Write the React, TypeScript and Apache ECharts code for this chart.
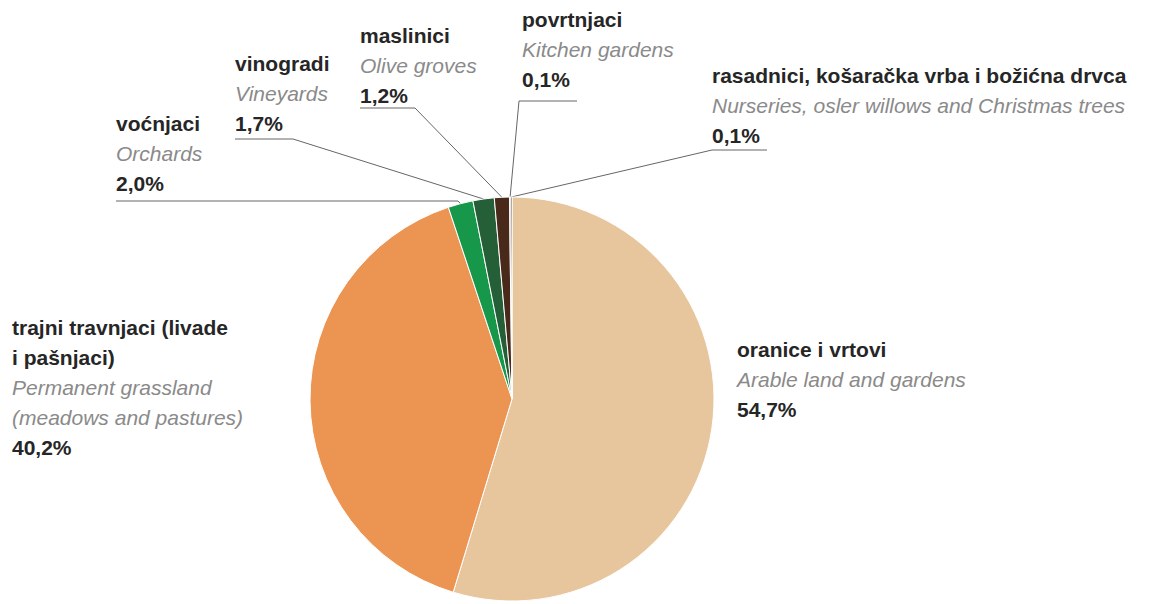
import React, { useEffect, useRef } from "react";
import * as echarts from "echarts";

const names = [
  "oranice i vrtovi",
  "trajni travnjaci (livade\ni pašnjaci)",
  "voćnjaci",
  "vinogradi",
  "maslinici",
  "povrtnjaci",
  "rasadnici, košaračka vrba i božićna drvca",
];
const englishNames = [
  "Arable land and gardens",
  "Permanent grassland\n(meadows and pastures)",
  "Orchards",
  "Vineyards",
  "Olive groves",
  "Kitchen gardens",
  "Nurseries, osler willows and Christmas trees",
];
const values = [54.7, 40.2, 2.0, 1.7, 1.2, 0.1, 0.1];

const colors = ["#e7c69e", "#ec9452", "#17974a", "#245f38", "#48291a", "#6a1e16", "#2a1810"];
// label block top-left positions
const labelPos = [
  [737, 334],
  [12, 312],
  [116, 108],
  [235, 48],
  [360, 20],
  [522, 4],
  [712, 60],
];
// leader line bend and end points (null = no leader)
const leaders: (number[][] | null)[] = [
  null,
  null,
  [[458, 201], [116, 201]],
  [[293, 139], [235, 139]],
  [[415, 108], [360, 108]],
  [[519, 101], [577, 101]],
  [[712, 150], [767, 150]],
];

const fmt = (v: number) => v.toFixed(1).replace(".", ",") + "%";

export default function App() {
  const ref = useRef<HTMLDivElement>(null);
  useEffect(() => {
    if (!ref.current) return;
    const chart = echarts.init(ref.current, undefined, { renderer: "svg" });
    const font = "'Liberation Sans', Arial, sans-serif";
    chart.setOption({
      animation: false,
      backgroundColor: "#ffffff",
      series: [
        {
          type: "pie",
          center: [512, 399],
          radius: 202,
          startAngle: 90,
          clockwise: true,
          avoidLabelOverlap: false,
          itemStyle: { borderColor: "#ffffff", borderWidth: 1 },
          label: {
            show: true,
            position: "outside",
            formatter: (p: any) => {
              const i = p.dataIndex;
              const b = names[i].split("\n").map((s) => `{b|${s}}`).join("\n");
              const e = englishNames[i].split("\n").map((s) => `{i|${s}}`).join("\n");
              return `${b}\n${e}\n{p|${fmt(values[i])}}`;
            },
            rich: {
              b: { fontFamily: font, fontSize: 21, fontWeight: "bold", color: "#262626", lineHeight: 30 },
              i: { fontFamily: font, fontSize: 21, fontStyle: "italic", color: "#8a8a8a", lineHeight: 30 },
              p: { fontFamily: font, fontSize: 21, fontWeight: "bold", color: "#262626", lineHeight: 30 },
            },
          },
          labelLine: { show: true, lineStyle: { color: "#666666", width: 1 } },
          labelLayout: (params: any) => {
            const i = params.dataIndex;
            const out: any = { x: labelPos[i][0], y: labelPos[i][1], align: "left", verticalAlign: "top" };
            const lead = leaders[i];
            if (lead && params.labelLinePoints) {
              out.labelLinePoints = [params.labelLinePoints[0], lead[0], lead[1]];
            }
            return out;
          },
          data: values.map((v, i) => ({
            value: v,
            name: names[i],
            itemStyle: { color: colors[i] },
            labelLine: { show: leaders[i] !== null },
          })),
        },
      ],
    });
    return () => chart.dispose();
  }, []);
  return (
    <div
      ref={ref}
      style={{ position: "fixed", left: 0, top: 0, width: 1153, height: 604, background: "#fff" }}
    />
  );
}
